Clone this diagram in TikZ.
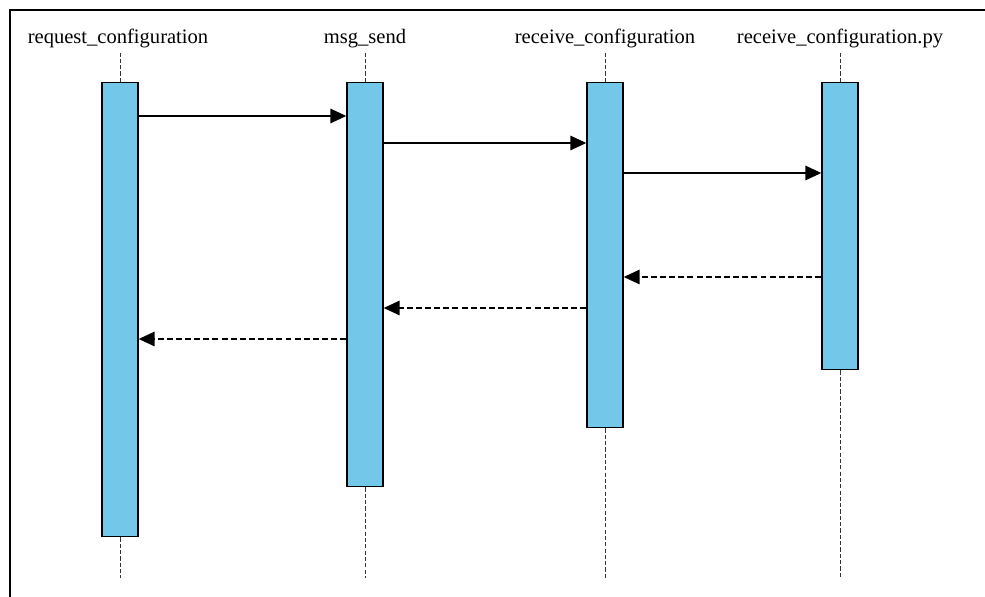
\documentclass[tikz,border=0pt]{standalone}
\usepackage{fontspec}
\setmainfont{Liberation Serif}
\usepackage{xcolor}
\usetikzlibrary{positioning, arrows.meta, calc}

\definecolor{actblue}{RGB}{115,200,234}

\begin{document}
\begin{tikzpicture}[x=0.02cm, y=-0.02cm,
    head/.style={anchor=base, inner sep=0pt, font=\fontsize{11.7}{14}\selectfont},
    act/.style={rectangle, draw=black, line width=0.8pt, fill=actblue, minimum width=0.72cm, anchor=north, inner sep=0pt},
    life/.style={draw=black!80, line width=0.5pt, dash pattern=on 2.4pt off 1.2pt},
    msg/.style={line width=0.9pt, -{Triangle[length=0.32cm, width=0.29cm]}},
    reply/.style={msg, dash pattern=on 3.4pt off 1.8pt}
]
\useasboundingbox (0,0) rectangle (985,597);

% frame (left and top edges)
\draw[line width=1.2pt] (10,597) -- (10,10) -- (985,10);

% lifeline heads
\node[head] (hReq) at (118,44) {request\_configuration};
\node[head] (hSend) at (365,44) {msg\_send};
\node[head] (hRecv) at (605,44) {receive\_configuration};
\node[head] (hPy) at (840,44) {receive\_configuration.py};

% lifeline ends
\coordinate (eReq) at (120,578);
\coordinate (eSend) at (365,578);
\coordinate (eRecv) at (605,578);
\coordinate (ePy) at (840,578);

% activation boxes
\node[act, minimum height=9.08cm] (req) at (120,82) {};
\node[act, minimum height=8.08cm] (send) at (365,82) {};
\node[act, minimum height=6.9cm] (recv) at (605,82) {};
\node[act, minimum height=5.74cm] (py) at (840,82) {};

% dashed lifelines
\draw[life] (req.north) -- (req.north |- 0,53);
\draw[life] (send.north) -- (send.north |- 0,53);
\draw[life] (recv.north) -- (recv.north |- 0,53);
\draw[life] (py.north) -- (py.north |- 0,53);
\draw[life] (req.south) -- (eReq);
\draw[life] (send.south) -- (eSend);
\draw[life] (recv.south) -- (eRecv);
\draw[life] (py.south) -- (ePy);

% message heights
\coordinate (m1) at (0,116);
\coordinate (m2) at (0,143);
\coordinate (m3) at (0,173);
\coordinate (m4) at (0,277);
\coordinate (m5) at (0,308);
\coordinate (m6) at (0,339);

% calls
\draw[msg] (req.east |- m1) -- (send.west |- m1);
\draw[msg] (send.east |- m2) -- (recv.west |- m2);
\draw[msg] (recv.east |- m3) -- (py.west |- m3);

% returns
\draw[reply] (py.west |- m4) -- (recv.east |- m4);
\draw[reply] (recv.west |- m5) -- (send.east |- m5);
\draw[reply] (send.west |- m6) -- (req.east |- m6);

\end{tikzpicture}
\end{document}
